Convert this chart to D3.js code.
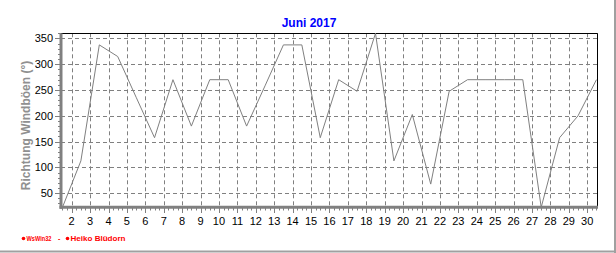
<!DOCTYPE html>
<html><head><meta charset="utf-8">
<script src="https://cdn.jsdelivr.net/npm/d3@7"></script>
<style>
html,body{margin:0;padding:0;background:#fff;}
svg{display:block;}
text{font-family:"Liberation Sans",Arial,sans-serif;}
</style></head>
<body>
<svg id="c" width="616" height="253"></svg>
<script>
// ---- data ----
const title = "Juni 2017";
const yAxisTitle = "Richtung Windböen  (°)";
const footerParts = ["WsWin32", "-", "Heiko Blüdorn"];
const days = [1.5,2.5,3.5,4.5,5.5,6.5,7.5,8.5,9.5,10.5,11.5,12.5,13.5,14.5,15.5,16.5,17.5,18.5,19.5,20.5,21.5,22.5,23.5,24.5,25.5,26.5,27.5,28.5,29.5,30.5];
const direction = [22.5,112.5,337.5,315,236,157.5,270,180,270,270,180,258,337.5,337.5,157.5,270,247.5,360,112.5,202.5,67.5,247.5,270,270,270,270,22.5,157.5,200,270];
const xTickDays = d3.range(2, 31);
const yTickValues = [50,100,150,200,250,300,350];

// ---- layout ----
const svg = d3.select("#c");
const L = 61, R = 597, T = 33.3, B = 207.3;
const x = d3.scaleLinear().domain([1.42, 30.53]).range([L, R]);
const y = d3.scaleLinear().domain([22.5, 360]).range([B, T]);
const grey = "#808080";

// outer frame (right / bottom)
svg.append("line").attr("x1",615).attr("x2",615).attr("y1",0).attr("y2",253).attr("stroke","#a0a0a0").attr("stroke-width",2);
svg.append("line").attr("x1",0).attr("x2",616).attr("y1",251.5).attr("y2",251.5).attr("stroke","#a0a0a0").attr("stroke-width",2);

// title
svg.append("text").attr("x",309).attr("y",26.5).attr("text-anchor","middle")
  .attr("font-size","12px").attr("font-weight","bold").attr("fill","#0000ff").text(title);

// grid
const g = svg.append("g");
g.selectAll(".hg").data(yTickValues).enter().append("line")
  .attr("x1",L).attr("x2",R).attr("y1",d=>Math.round(y(d))+0.5).attr("y2",d=>Math.round(y(d))+0.5)
  .attr("stroke",grey).attr("stroke-dasharray","4,3");
g.selectAll(".vg").data(xTickDays).enter().append("line")
  .attr("y1",T).attr("y2",B).attr("x1",d=>Math.round(x(d))+0.5).attr("x2",d=>Math.round(x(d))+0.5)
  .attr("stroke",grey).attr("stroke-dasharray","4,3");

// plot border top/right black
svg.append("line").attr("x1",L).attr("x2",R+0.5).attr("y1",Math.round(T)+0.5).attr("y2",Math.round(T)+0.5).attr("stroke","#000");
svg.append("line").attr("x1",R+0.5).attr("x2",R+0.5).attr("y1",T).attr("y2",B).attr("stroke","#000");

// data line
const line = d3.line().x((d,i)=>x(days[i])).y(d=>y(d));
svg.append("path").datum(direction).attr("d",line).attr("fill","none").attr("stroke",grey).attr("stroke-width",1);

// axes
const yMinor = d3.range(30, 361, 10);
svg.append("g").selectAll("line").data(yMinor).enter().append("line")
  .attr("x1",d=> d%50===0 ? 55 : 58).attr("x2",L)
  .attr("y1",d=>Math.round(y(d))+0.5).attr("y2",d=>Math.round(y(d))+0.5).attr("stroke",grey);
svg.append("g").selectAll("text").data(yTickValues).enter().append("text")
  .attr("x",53).attr("y",d=>y(d)+4).attr("text-anchor","end").attr("font-size","11px").attr("fill","#000").text(d=>d);

const xMinor = d3.range(1.5, 30.6, 0.25);
svg.append("g").selectAll("line").data(xMinor).enter().append("line")
  .attr("x1",d=>Math.round(x(d))+0.5).attr("x2",d=>Math.round(x(d))+0.5)
  .attr("y1",B).attr("y2",d=> Number.isInteger(d) ? 213 : 210.5).attr("stroke",grey);
svg.append("g").selectAll("text").data(xTickDays).enter().append("text")
  .attr("x",d=>x(d)).attr("y",225).attr("text-anchor","middle").attr("font-size","11px").attr("fill","#000").text(d=>d);

// thick axis lines
svg.append("line").attr("x1",L).attr("x2",L).attr("y1",T).attr("y2",B+1.5).attr("stroke",grey).attr("stroke-width",3);
svg.append("line").attr("x1",L-1.5).attr("x2",R+1).attr("y1",B).attr("y2",B).attr("stroke",grey).attr("stroke-width",3);

// y axis title
svg.append("text").attr("transform","translate(30,125.5) rotate(-90)").attr("text-anchor","middle")
  .attr("font-size","12px").attr("font-weight","bold").attr("fill","#909090").text(yAxisTitle);

// footer
const f = svg.append("g").attr("fill","#ff0000");
f.append("circle").attr("cx",23.5).attr("cy",238.5).attr("r",1.8).attr("fill","#ff0000");
f.append("text").attr("x",26.5).attr("y",241).attr("font-size","7px").attr("font-weight","bold").attr("textLength",25).attr("lengthAdjust","spacingAndGlyphs").text(footerParts[0]);
f.append("text").attr("x",58).attr("y",241).attr("font-size","7px").attr("font-weight","bold").text(footerParts[1]);
f.append("circle").attr("cx",67.5).attr("cy",238.5).attr("r",1.8).attr("fill","#ff0000");
f.append("text").attr("x",70.5).attr("y",241).attr("font-size","7px").attr("font-weight","bold").attr("textLength",55).attr("lengthAdjust","spacingAndGlyphs").text(footerParts[2]);
</script>
</body></html>
